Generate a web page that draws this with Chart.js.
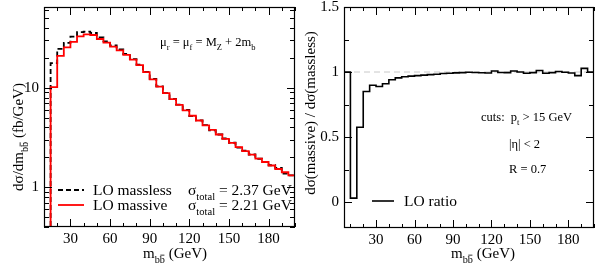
<!DOCTYPE html>
<html>
<head>
<meta charset="utf-8">
<script src="https://cdn.jsdelivr.net/npm/chart.js@4"></script>
<style>
  html, body { margin: 0; padding: 0; background: #fff; }
  #wrap { position: relative; width: 596px; height: 268px; }
  canvas { position: absolute; top: 0; }
  #left { left: 0; }
  #right { left: 298px; }
</style>
</head>
<body>
<div id="wrap">
  <canvas id="left" width="298" height="268"></canvas>
  <canvas id="right" width="298" height="268"></canvas>
</div>
<script>
// 5 GeV bins, lower edges + last upper edge
const binEdges = [10, 15, 20, 25, 30, 35, 40, 45, 50, 55, 60, 65, 70, 75, 80, 85, 90, 95, 100,
  105, 110, 115, 120, 125, 130, 135, 140, 145, 150, 155, 160, 165, 170, 175, 180, 185, 190, 195, 200];

const loMassless = [0.33, 17.7, 24.7, 28.4, 32.7, 36.3, 36.7, 35.6, 32.2, 29.4, 26.7, 24.4, 21.9, 19.5,
  17.1, 14.5, 12.3, 10.35, 8.87, 7.73, 6.79, 6.0, 5.21, 4.72, 4.22, 3.75, 3.4, 3.1, 2.81, 2.51, 2.34,
  2.14, 1.94, 1.8, 1.67, 1.57, 1.38, 1.32];

const loMassive = [0.01, 10.2, 21, 25.5, 29, 33, 34.5, 34, 31, 28.5, 26, 23.8, 21.5, 19.2, 16.9, 14.4,
  12.2, 10.3, 8.85, 7.7, 6.75, 5.95, 5.25, 4.7, 4.2, 3.78, 3.4, 3.07, 2.8, 2.54, 2.32, 2.13, 1.95, 1.8,
  1.66, 1.53, 1.42, 1.32];

const ratioEdges = [5, 10, 15, 20, 25, 30, 35, 40, 45, 50, 55, 60, 65, 70, 75, 80, 85, 90, 95, 100,
  105, 110, 115, 120, 125, 130, 135, 140, 145, 150, 155, 160, 165, 170, 175, 180, 185, 190, 195, 200];

const loRatio = [1, 0.03, 0.575, 0.85, 0.898, 0.888, 0.91, 0.94, 0.955, 0.963, 0.968, 0.972, 0.976,
  0.98, 0.983, 0.988, 0.99, 0.993, 0.995, 0.998, 0.996, 0.994, 0.992, 1.008, 0.996, 0.995, 1.008, 1.0,
  0.99, 0.995, 1.012, 0.99, 0.995, 1.004, 0.998, 0.992, 0.972, 1.028, 1.0];

// ticks
const xTicks = [10, 20, 30, 40, 50, 60, 70, 80, 90, 100, 110, 120, 130, 140, 150, 160, 170, 180, 190, 200];
const xTickLabels = [30, 60, 90, 120, 150, 180];
const logTicks = [0.4, 0.5, 0.6, 0.7, 0.8, 0.9, 1, 2, 3, 4, 5, 6, 7, 8, 9, 10, 20, 30, 40, 50, 60];
const logTickLabels = [1, 10];
const ratioTicks = [0, 0.25, 0.5, 0.75, 1, 1.25, 1.5];
const ratioTickLabels = [0, 0.5, 1, 1.5];

const FONT = 'Liberation Serif';
Chart.defaults.font.family = FONT;
Chart.defaults.color = '#000';

function histPoints(edges, vals) {
  const pts = [];
  vals.forEach((v, i) => {
    pts.push({x: edges[i], y: v}, {x: edges[i + 1], y: v});
  });
  return pts;
}

// text with subscripts / overbar; parts = [{t, sub, bar}]
function richWidth(ctx, parts, size) {
  let w = 0;
  parts.forEach(p => {
    ctx.font = (p.sub ? size * 0.68 : size) + 'px "' + FONT + '"';
    w += ctx.measureText(p.t).width;
  });
  return w;
}
function drawRich(ctx, parts, x, y, size, align) {
  let cx = x;
  const w = richWidth(ctx, parts, size);
  if (align === 'center') cx = x - w / 2;
  ctx.textBaseline = 'alphabetic';
  ctx.textAlign = 'left';
  parts.forEach(p => {
    const s = p.sub ? size * 0.68 : size;
    ctx.font = s + 'px "' + FONT + '"';
    const dy = p.sub ? size * 0.3 : 0;
    ctx.fillText(p.t, cx, y + dy);
    const tw = ctx.measureText(p.t).width;
    if (p.bar) {
      ctx.beginPath();
      ctx.lineWidth = 0.8;
      ctx.moveTo(cx + 0.5, y + dy - s * 0.72);
      ctx.lineTo(cx + tw - 0.5, y + dy - s * 0.72);
      ctx.stroke();
    }
    cx += tw;
  });
}

const mbb = [{t: 'm'}, {t: 'b', sub: true}, {t: 'b', sub: true, bar: true}, {t: ' (GeV)'}];

// inward ticks on all four sides, frame, and extra text
function frameTicks(yMajor, drawText) {
  return {
    id: 'frameTicks',
    afterDatasetsDraw(chart) {
      const {ctx, chartArea: a, scales: {x, y}} = chart;
      ctx.save();
      ctx.strokeStyle = '#000';
      ctx.lineWidth = 1;
      ctx.beginPath();
      x.ticks.forEach(t => {
        const px = Math.round(x.getPixelForValue(t.value)) + 0.5;
        const len = xTickLabels.includes(t.value) ? 8 : 4;
        ctx.moveTo(px, a.bottom); ctx.lineTo(px, a.bottom - len);
        ctx.moveTo(px, a.top); ctx.lineTo(px, a.top + len);
      });
      y.ticks.forEach(t => {
        const py = Math.round(y.getPixelForValue(t.value)) + 0.5;
        const len = yMajor.includes(t.value) ? 8 : 5;
        ctx.moveTo(a.left, py); ctx.lineTo(a.left + len, py);
        ctx.moveTo(a.right, py); ctx.lineTo(a.right - len, py);
      });
      ctx.stroke();
      ctx.lineWidth = 1.2;
      ctx.strokeRect(a.left + 0.5, a.top + 0.5, a.width - 1, a.height - 1);
      ctx.restore();
      ctx.save();
      ctx.fillStyle = '#000';
      ctx.strokeStyle = '#000';
      drawText(ctx, chart);
      ctx.restore();
    }
  };
}

function xScale(min, height) {
  return {
    type: 'linear', min: min, max: 200,
    grid: {display: false, drawTicks: false},
    border: {display: false},
    afterBuildTicks: s => { s.ticks = xTicks.map(v => ({value: v})); },
    afterFit: s => { s.height = height; s.paddingLeft = 0; s.paddingRight = 0; },
    ticks: {
      autoSkip: false, maxRotation: 0, padding: 3,
      font: {size: 15, family: FONT},
      callback: v => xTickLabels.includes(v) ? String(v) : ''
    }
  };
}

function yFit(width) {
  return s => { s.width = width; s.paddingTop = 0; s.paddingBottom = 0; };
}

// left: spectra
new Chart(document.getElementById('left'), {
  type: 'line',
  data: {
    datasets: [
      {label: 'LO massive', data: histPoints(binEdges, loMassive), borderColor: '#ff0000',
       borderWidth: 1.8, pointRadius: 0, tension: 0},
      {label: 'LO massless', data: histPoints(binEdges, loMassless), borderColor: '#000',
       borderWidth: 1.8, borderDash: [5, 3], pointRadius: 0, tension: 0}
    ]
  },
  options: {
    responsive: false, animation: false, devicePixelRatio: 1,
    layout: {padding: {top: 7, right: 3, left: 0, bottom: 0}},
    scales: {
      x: xScale(10, 41),
      y: {
        type: 'logarithmic', min: 0.4, max: 65,
        grid: {display: false, drawTicks: false},
        border: {display: false},
        afterBuildTicks: s => { s.ticks = logTicks.map(v => ({value: v})); },
        afterFit: yFit(44),
        ticks: {
          autoSkip: false, padding: 5, font: {size: 15, family: FONT},
          callback: v => logTickLabels.includes(v) ? String(v) : ''
        }
      }
    },
    plugins: {legend: {display: false}, tooltip: {enabled: false}}
  },
  plugins: [frameTicks(logTickLabels, (ctx, chart) => {
    ctx.save();
    ctx.translate(23, 137);
    ctx.rotate(-Math.PI / 2);
    drawRich(ctx, [{t: 'dσ/dm'}, {t: 'b', sub: true}, {t: 'b', sub: true, bar: true}, {t: ' (fb/GeV)'}], 0, 0, 15, 'center');
    ctx.restore();
    drawRich(ctx, mbb, 175, 258, 15, 'center');
    drawRich(ctx, [{t: 'μ'}, {t: 'r', sub: true}, {t: ' = μ'}, {t: 'f', sub: true},
      {t: ' = M'}, {t: 'Z', sub: true}, {t: ' + 2m'}, {t: 'b', sub: true}], 160, 46, 12.5, 'left');
    const ds = chart.data.datasets;
    ctx.lineWidth = 1.8;
    ctx.strokeStyle = '#000';
    ctx.setLineDash([5, 3]);
    ctx.beginPath(); ctx.moveTo(58, 190); ctx.lineTo(84, 190); ctx.stroke();
    ctx.setLineDash([]);
    ctx.strokeStyle = '#ff0000';
    ctx.beginPath(); ctx.moveTo(58, 205); ctx.lineTo(84, 205); ctx.stroke();
    ctx.strokeStyle = '#000';
    drawRich(ctx, [{t: ds[1].label}], 93, 195, 15.5, 'left');
    drawRich(ctx, [{t: ds[0].label}], 93, 210, 15.5, 'left');
    drawRich(ctx, [{t: 'σ'}, {t: 'total', sub: true}, {t: ' = 2.37 GeV'}], 188, 195, 15.5, 'left');
    drawRich(ctx, [{t: 'σ'}, {t: 'total', sub: true}, {t: ' = 2.21 GeV'}], 188, 210, 15.5, 'left');
  })]
});

// right: ratio
new Chart(document.getElementById('right'), {
  type: 'line',
  data: {
    datasets: [
      {label: 'LO ratio', data: histPoints(ratioEdges, loRatio), borderColor: '#000',
       borderWidth: 1.6, pointRadius: 0, tension: 0},
      {label: 'unity', data: [{x: 5, y: 1}, {x: 200, y: 1}], borderColor: '#c8c8c8',
       borderWidth: 1, borderDash: [6, 4], pointRadius: 0, tension: 0}
    ]
  },
  options: {
    responsive: false, animation: false, devicePixelRatio: 1,
    layout: {padding: {top: 7, right: 2, left: 0, bottom: 0}},
    scales: {
      x: xScale(5, 40),
      y: {
        type: 'linear', min: -0.2, max: 1.5,
        grid: {display: false, drawTicks: false},
        border: {display: false},
        afterBuildTicks: s => { s.ticks = ratioTicks.map(v => ({value: v})); },
        afterFit: yFit(46),
        ticks: {
          autoSkip: false, padding: 5, font: {size: 15, family: FONT},
          callback: v => ratioTickLabels.includes(v) ? String(v) : ''
        }
      }
    },
    plugins: {legend: {display: false}, tooltip: {enabled: false}}
  },
  plugins: [frameTicks(ratioTickLabels, (ctx, chart) => {
    ctx.save();
    ctx.translate(17, 113);
    ctx.rotate(-Math.PI / 2);
    drawRich(ctx, [{t: 'dσ(massive) / dσ(massless)'}], 0, 0, 15, 'center');
    ctx.restore();
    drawRich(ctx, mbb, 185, 258, 15, 'center');
    drawRich(ctx, [{t: 'cuts:  p'}, {t: 't', sub: true}, {t: ' > 15 GeV'}], 183, 121, 12.5, 'left');
    drawRich(ctx, [{t: '|η| < 2'}], 211, 148, 12.5, 'left');
    drawRich(ctx, [{t: 'R = 0.7'}], 211, 173, 12.5, 'left');
    ctx.lineWidth = 1.6;
    ctx.beginPath(); ctx.moveTo(74, 201); ctx.lineTo(96, 201); ctx.stroke();
    drawRich(ctx, [{t: chart.data.datasets[0].label}], 106, 206, 15.5, 'left');
  })]
});
</script>
</body>
</html>
